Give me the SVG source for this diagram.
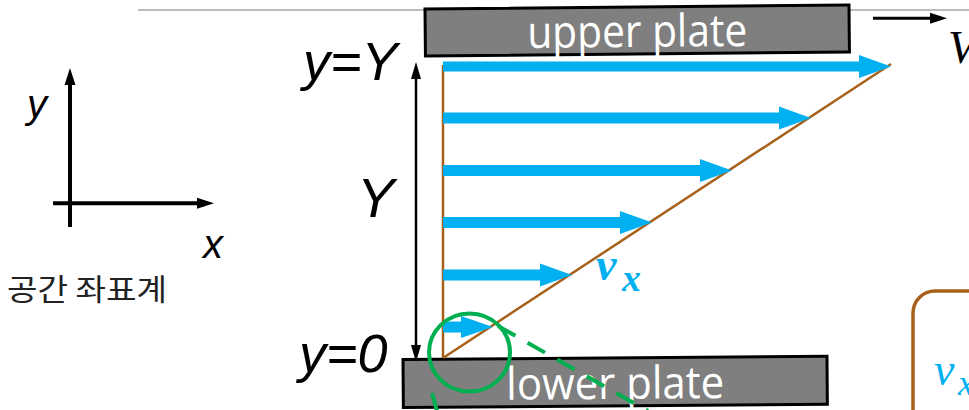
<svg xmlns="http://www.w3.org/2000/svg" width="969" height="410" viewBox="0 0 969 410">
<style>
.plate{fill:#7F7F7F;stroke:#000;stroke-width:3}
.ptxt{font-family:"Open Sans","Liberation Sans",sans-serif;font-size:45px;fill:#fff}
.lbl{font-family:"Liberation Sans",Arial,sans-serif;font-style:italic;fill:#000}
.vel{fill:#00B0F0}
.brown{stroke:#A8611A;stroke-width:2.5;fill:none}
.blk{stroke:#000;fill:none}
.math{font-family:"Liberation Serif","Times New Roman",serif;font-style:italic;fill:#00B0F0}
.green{stroke:#00B050;stroke-width:4;fill:none}
</style>
<rect width="969" height="410" fill="#fff"/>
<line x1="138" y1="10" x2="969" y2="10" stroke="#A6A6A6" stroke-width="1.5"/>

<g id="axes">
<line class="blk" x1="70" y1="227" x2="70" y2="82" stroke-width="4"/>
<polygon points="70,68 64.5,85 75.5,85" fill="#000"/>
<line class="blk" x1="53" y1="203.3" x2="199" y2="203.3" stroke-width="4"/>
<polygon points="214,203.3 197,197.8 197,208.8" fill="#000"/>
<text class="lbl" x="27" y="117.5" font-size="40">y</text>
<text class="lbl" x="203" y="258" font-size="40">x</text>
<text x="7" y="300" font-family="'Noto Sans CJK KR','Noto Sans',sans-serif" font-size="30" fill="#222" textLength="160" lengthAdjust="spacingAndGlyphs">공간 좌표계</text>
</g>

<g id="upper-plate">
<g transform="rotate(-0.55 425 9)">
<rect class="plate" x="425" y="9" width="424" height="47"/>
<text class="ptxt" x="637" y="49" text-anchor="middle" textLength="220" lengthAdjust="spacingAndGlyphs">upper plate</text>
</g>
</g>

<g id="lower-plate">
<g transform="rotate(-0.45 403 359.5)">
<rect class="plate" x="403" y="359.5" width="424" height="48"/>
<text class="ptxt" x="615" y="400.5" text-anchor="middle" textLength="218" lengthAdjust="spacingAndGlyphs">lower plate</text>
</g>
</g>

<g id="velocity-V">
<line class="blk" x1="873" y1="18.3" x2="933" y2="18.3" stroke-width="3"/>
<polygon points="947,18.3 930,12.8 930,23.8" fill="#000"/>
<text x="948" y="63" font-family="'Liberation Serif','Times New Roman',serif" font-style="italic" font-size="46" fill="#000">V</text>
</g>

<g id="labels">
<text class="lbl" x="303" y="80" font-size="54">y=Y</text>
<text class="lbl" x="357" y="216.5" font-size="56">Y</text>
<text class="lbl" x="299" y="371.5" font-size="54">y=0</text>
</g>

<g id="profile">
<line class="brown" x1="443" y1="65" x2="443" y2="358"/>
<line class="brown" x1="443" y1="358" x2="891" y2="64"/>
</g>

<g id="velocity-arrows">
<polygon class="vel" points="443,61.5 859,61.5 859,55 891,66.5 859,78 859,71.5 443,71.5"/>
<polygon class="vel" points="443,112.5 779,112.5 779,106.5 811,118 779,129.5 779,123.5 443,123.5"/>
<polygon class="vel" points="443,165 700,165 700,159 732,170.5 700,182 700,176 443,176"/>
<polygon class="vel" points="443,217 620,217 620,211 652,222.5 620,234 620,228 443,228"/>
<polygon class="vel" points="443,269.5 540,269.5 540,263.5 572,275 540,286.5 540,280.5 443,280.5"/>
<polygon class="vel" points="443,321.5 461,321.5 461,316 493,327 461,338 461,332.5 443,332.5"/>
<text class="math" x="596" y="280" font-size="46" font-weight="bold">v<tspan x="622" y="291" font-size="38">x</tspan></text>
</g>

<g id="height-arrow">
<line class="blk" x1="416" y1="78" x2="416" y2="346" stroke-width="2.5"/>
<polygon points="416,62 411,79 421,79" fill="#000"/>
<polygon points="416,362 411,345 421,345" fill="#000"/>
</g>

<g id="zoom-callout">
<ellipse class="green" cx="469.5" cy="352.5" rx="40.5" ry="39"/>
<line class="green" x1="432" y1="393" x2="437" y2="411" stroke-dasharray="20 14"/>
<line class="green" x1="498" y1="326" x2="648" y2="411" stroke-dasharray="20 14"/>
</g>

<g id="detail-box">
<rect x="913" y="291" width="120" height="160" rx="22" ry="22" fill="none" stroke="#A8611A" stroke-width="3.5"/>
<text class="math" x="934" y="385" font-size="46">v<tspan x="958" y="395" font-size="36">x</tspan></text>
</g>
</svg>
